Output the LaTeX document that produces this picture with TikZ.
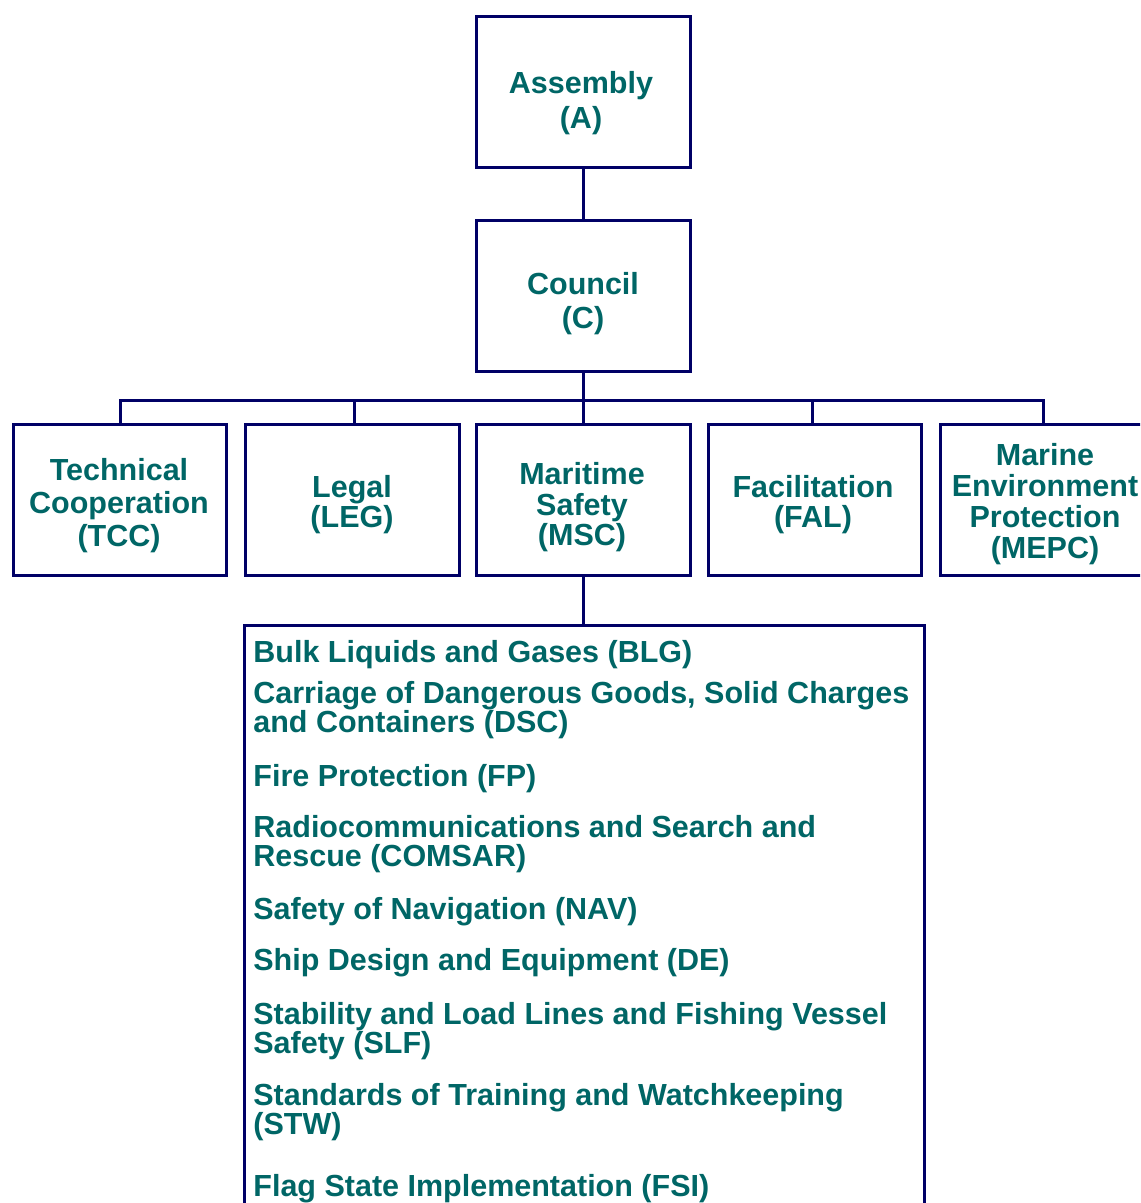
\documentclass[tikz,border=0pt]{standalone}
\usepackage{fontspec}
\setmainfont{Liberation Sans}
\definecolor{navy}{RGB}{0,0,102}
\definecolor{tealtxt}{RGB}{0,102,102}
\begin{document}
\begin{tikzpicture}[x=0.5pt,y=-0.5pt,
  box/.style={draw=navy,line width=1.5pt,minimum width=106.75pt,minimum height=75.5pt,inner sep=0pt},
  lbl/.style={text=tealtxt,font=\bfseries\fontsize{15.25}{#1}\selectfont,align=center,inner sep=0pt,anchor=north},
  item/.style={text=tealtxt,font=\bfseries\fontsize{15.25}{14.5}\selectfont,align=left,inner sep=0pt,anchor=north west},
  conn/.style={draw=navy,line width=1.5pt}]
\useasboundingbox (0,0) rectangle (1140,1203);
\clip (0,0) rectangle (1140,1203);
\fill[white] (0,0) rectangle (1140,1203);
% boxes
\node[box] (asm) at (583.25,92) {};
\node[box] (cou) at (583.25,296.2) {};
\node[box] (tcc) at (120,500) {};
\node[box] (leg) at (352.25,500) {};
\node[box] (msc) at (583.25,500) {};
\node[box] (fal) at (815,500) {};
\node[box] (mepc) at (1047.5,500) {};
\node[draw=navy,line width=1.5pt,minimum width=339.75pt,minimum height=320pt,inner sep=0pt] (sub) at (584.25,945) {};
% connectors
\coordinate (bus) at (583.25,400.7);
\coordinate (legtop) at ([xshift=1pt]leg.north);
\coordinate (faltop) at ([xshift=-1.5pt]fal.north);
\coordinate (mepctop) at ([xshift=-2.2pt]mepc.north);
\draw[conn] (asm.south) -- (cou.north);
\draw[conn] (cou.south) -- (bus);
\draw[conn] (tcc.north) |- (bus) -| (mepctop);
\draw[conn] (legtop) -- (legtop |- bus);
\draw[conn] (msc.north) -- (msc.north |- bus);
\draw[conn] (faltop) -- (faltop |- bus);
\draw[conn] (msc.south) -- (msc.south |- sub.north);
% box labels
\node[lbl=17.5] (asmt) at (581,71) {Assembly\\(A)};
\node[lbl=17] (cout) at (583,272) {Council\\(C)};
\node[lbl=16.5] (tcct) at (119,458) {Technical\\Cooperation\\(TCC)};
\node[lbl=15] (legt) at (352,475) {Legal\\(LEG)};
\node[lbl=15.25] (msct) at (582,462) {Maritime\\Safety\\(MSC)};
\node[lbl=15] (falt) at (813,475) {Facilitation\\(FAL)};
\node[lbl=15.5] (mepct) at (1045,443) {Marine\\Environment\\Protection\\(MEPC)};
% sub-committees
\node[item] (blg) at (253,640) {Bulk Liquids and Gases (BLG)};
\node[item] (dsc) at (253,681) {Carriage of Dangerous Goods, Solid Charges\\and Containers (DSC)};
\node[item] (fp) at (253,764) {Fire Protection (FP)};
\node[item] (comsar) at (253,815) {Radiocommunications and Search and\\Rescue (COMSAR)};
\node[item] (nav) at (253,897) {Safety of Navigation (NAV)};
\node[item] (de) at (253,948) {Ship Design and Equipment (DE)};
\node[item] (slf) at (253,1002) {Stability and Load Lines and Fishing Vessel\\Safety (SLF)};
\node[item] (stw) at (253,1083) {Standards of Training and Watchkeeping\\(STW)};
\node[item] (fsi) at (253,1174) {Flag State Implementation (FSI)};
\end{tikzpicture}
\end{document}
